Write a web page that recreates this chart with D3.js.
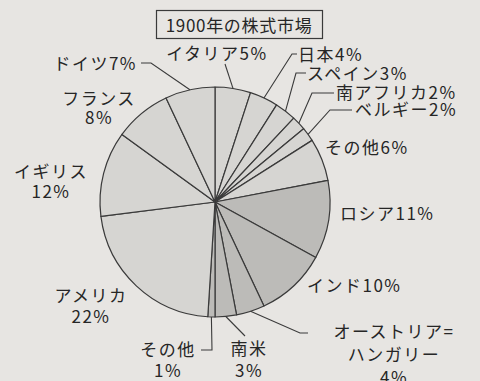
<!DOCTYPE html>
<html><head><meta charset="utf-8">
<script src="https://cdn.jsdelivr.net/npm/d3@7"></script>
<style>
html,body{margin:0;padding:0;background:#e7e5e2;}
svg{display:block;}
text{font-family:"Noto Sans CJK JP","Noto Sans",sans-serif;fill:#262626;}
</style></head>
<body>
<script>
// ---- data ----
const title = "1900年の株式市場";
const countries = ["イタリア","日本","スペイン","南アフリカ","ベルギー","その他","ロシア","インド","オーストリア=ハンガリー","南米","その他","アメリカ","イギリス","フランス","ドイツ"];
const shares = [5,4,3,2,2,6,11,10,4,3,1,22,12,8,7];
const shade = ["light","light","light","light","light","light","dark","dark","dark","dark","dark","light","light","light","light"];

// ---- layout (label placement, not data) ----
const labelLayout = [
  {lines:["イタリア5%"], x:217, y:60, anchor:"middle", leader:[[225,64]]},
  {lines:["日本4%"], x:298, y:61, anchor:"start", leader:[[292,54],[297,54]]},
  {lines:["スペイン3%"], x:307, y:80, anchor:"start", leader:[[296,73],[306,73]]},
  {lines:["南アフリカ2%"], x:336, y:99, anchor:"start", leader:[[312,93],[334,93]]},
  {lines:["ベルギー2%"], x:355, y:116, anchor:"start", leader:[[330,110],[352,110]]},
  {lines:["その他6%"], x:325, y:154, anchor:"start"},
  {lines:["ロシア11%"], x:340, y:220, anchor:"start"},
  {lines:["インド10%"], x:307, y:292, anchor:"start"},
  {lines:["オーストリア=","ハンガリー","4%"], x:394, y:338, anchor:"middle", gap:23, leader:[[300,333],[308,333]]},
  {lines:["南米","3%"], x:249, y:355, anchor:"middle", gap:22, leader:[[245,336]]},
  {lines:["その他","1%"], x:168, y:356, anchor:"middle", gap:21, leader:[[212,350],[201,350]]},
  {lines:["アメリカ","22%"], x:91, y:302, anchor:"middle", gap:21},
  {lines:["イギリス","12%"], x:51, y:178, anchor:"middle", gap:20},
  {lines:["フランス","8%"], x:99, y:105, anchor:"middle", gap:19},
  {lines:["ドイツ7%"], x:137, y:70, anchor:"end", leader:[[151,63],[141,63]]}
];

const W=480,H=381, cx=215, cy=202, R=115;
const svg=d3.select("body").append("svg").attr("width",W).attr("height",H);

// title box
const tg=svg.append("g");
tg.append("rect").attr("x",156.5).attr("y",10.5).attr("width",166).attr("height",28)
  .attr("fill","none").attr("stroke","#3a3a3a").attr("stroke-width",1.2);
tg.append("text").attr("x",239).attr("y",32).attr("text-anchor","middle")
  .attr("font-size",17).attr("letter-spacing",0.7).text(title);

const pie=d3.pie().sort(null).value(d=>d)(shares);
const arc=d3.arc().innerRadius(0).outerRadius(R);
const color=d3.scaleOrdinal().domain(["light","dark"]).range(["#d6d5d2","#bcbbb8"]);

const g=svg.append("g").attr("transform",`translate(${cx},${cy})`);
g.selectAll("path.slice").data(pie).join("path").attr("class","slice")
  .attr("d",arc).attr("fill",(d,i)=>color(shade[i]))
  .attr("stroke","#3a3a3a").attr("stroke-width",1.2).attr("stroke-linejoin","round");

// leader lines
const line=d3.line();
pie.forEach((d,i)=>{
  const L=labelLayout[i];
  if(!L.leader) return;
  const a=(d.startAngle+d.endAngle)/2;
  const p=[cx+R*Math.sin(a), cy-R*Math.cos(a)];
  svg.append("path").attr("d",line([p,...L.leader]))
    .attr("fill","none").attr("stroke","#3a3a3a").attr("stroke-width",1.1);
});

// labels
labelLayout.forEach((L,i)=>{
  const t=svg.append("text").attr("x",L.x).attr("y",L.y).attr("text-anchor",L.anchor)
    .attr("font-size",17).attr("letter-spacing",1.5);
  L.lines.forEach((s,k)=>{
    t.append("tspan").attr("x",L.x).attr("dy",k===0?0:(L.gap||22)).text(s);
  });
});
</script>
</body></html>
